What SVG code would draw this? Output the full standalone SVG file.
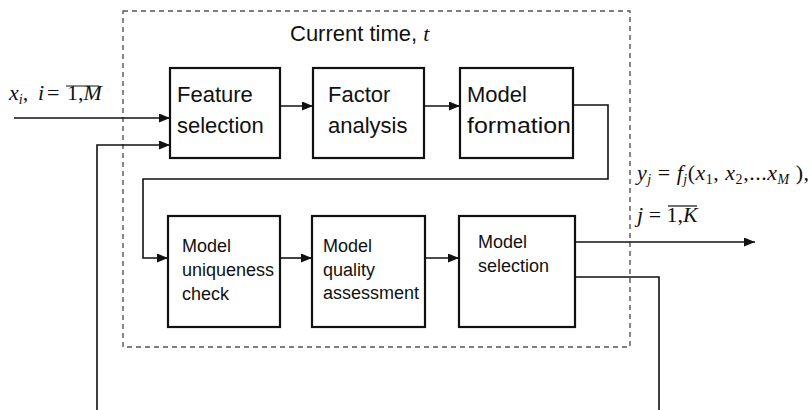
<svg xmlns="http://www.w3.org/2000/svg" width="811" height="410" viewBox="0 0 811 410">
<style>
.box{fill:#fff;stroke:#111;stroke-width:2.2}
.lbl{font-family:"Liberation Sans",Arial,sans-serif;font-size:22px;fill:#111}
.sm{font-family:"Liberation Sans",Arial,sans-serif;font-size:18px;fill:#111}
.math{font-family:"Liberation Serif","Times New Roman",serif;font-size:22px;fill:#111}
.con{fill:none;stroke:#111;stroke-width:1.6}
</style>
<defs>
<marker id="ah" markerWidth="12" markerHeight="10" refX="11" refY="4.5" orient="auto" markerUnits="userSpaceOnUse">
<path d="M0,0 L11,4.5 L0,9 z" fill="#111"/>
</marker>
</defs>
<rect x="123" y="11" width="507" height="336" fill="none" stroke="#555" stroke-width="1.4" stroke-dasharray="5,4"/>
<text class="lbl" x="290" y="41" font-size="23">Current time, <tspan font-family="Liberation Serif,serif" font-style="italic">t</tspan></text>
<g id="connectors">
<path class="con" d="M14,118 H170" marker-end="url(#ah)"/>
<path class="con" d="M97,410 V145 H170" marker-end="url(#ah)"/>
<path class="con" d="M280,106 H313" marker-end="url(#ah)"/>
<path class="con" d="M424,106 H460" marker-end="url(#ah)"/>
<path class="con" d="M573,105 H608 V179 H143 V258 H168" marker-end="url(#ah)"/>
<path class="con" d="M280,258 H312" marker-end="url(#ah)"/>
<path class="con" d="M425,258 H459" marker-end="url(#ah)"/>
<path class="con" d="M575,242 H755" marker-end="url(#ah)"/>
<path class="con" d="M575,277 H659 V410"/>
</g>
<g id="feature-selection">
<rect class="box" x="170" y="68" width="110" height="90"/>
<text class="lbl" x="177" y="102">Feature</text>
<text class="lbl" x="177" y="133">selection</text>
</g>
<g id="factor-analysis">
<rect class="box" x="313" y="68" width="111" height="90"/>
<text class="lbl" x="328" y="102">Factor</text>
<text class="lbl" x="328" y="133">analysis</text>
</g>
<g id="model-formation">
<rect class="box" x="460" y="68" width="113" height="90"/>
<text class="lbl" x="467" y="102">Model</text>
<text class="lbl" x="467" y="133" textLength="104" lengthAdjust="spacingAndGlyphs">formation</text>
</g>
<g id="model-uniqueness-check">
<rect class="box" x="168" y="216" width="112" height="111"/>
<text class="sm" x="182" y="252">Model</text>
<text class="sm" x="182" y="276">uniqueness</text>
<text class="sm" x="182" y="300">check</text>
</g>
<g id="model-quality-assessment">
<rect class="box" x="312" y="216" width="113" height="111"/>
<text class="sm" x="323" y="252">Model</text>
<text class="sm" x="323" y="276">quality</text>
<text class="sm" x="323" y="299">assessment</text>
</g>
<g id="model-selection">
<rect class="box" x="459" y="216" width="116" height="111"/>
<text class="sm" x="478" y="248">Model</text>
<text class="sm" x="478" y="272">selection</text>
</g>
<g id="input-label">
<text class="math" x="9" y="100" font-size="20"><tspan font-style="italic">x</tspan><tspan font-style="italic" font-size="14" dy="4">i</tspan><tspan dy="-4">,</tspan><tspan x="38" font-style="italic">i</tspan><tspan x="47">=</tspan><tspan x="67">1,</tspan><tspan font-style="italic">M</tspan></text>
<line x1="66" y1="86" x2="99" y2="86" stroke="#111" stroke-width="1.2"/>
</g>
<g id="output-label">
<text class="math" x="637" y="180" textLength="172" lengthAdjust="spacing"><tspan font-style="italic">y</tspan><tspan font-style="italic" font-size="14" dy="4">j</tspan><tspan dy="-4"> = </tspan><tspan font-style="italic">f</tspan><tspan font-style="italic" font-size="14" dy="4">j</tspan><tspan dy="-4">(</tspan><tspan font-style="italic">x</tspan><tspan font-size="14" dy="4">1</tspan><tspan dy="-4">, </tspan><tspan font-style="italic">x</tspan><tspan font-size="14" dy="4">2</tspan><tspan dy="-4">,...</tspan><tspan font-style="italic">x</tspan><tspan font-style="italic" font-size="14" dy="4">M</tspan><tspan dy="-4"> ),</tspan></text>
<text class="math" x="637" y="222"><tspan font-style="italic">j</tspan> = 1,<tspan font-style="italic">K</tspan></text>
<line x1="668" y1="206" x2="697" y2="206" stroke="#111" stroke-width="1.2"/>
</g>
</svg>
